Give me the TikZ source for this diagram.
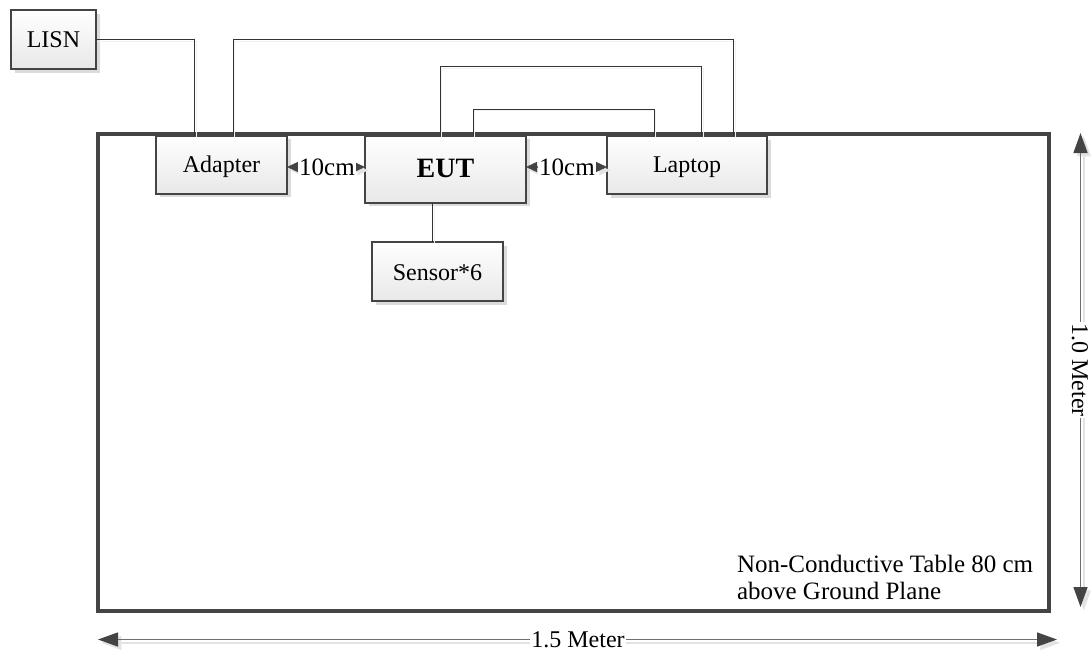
\documentclass[tikz,border=0pt]{standalone}
\usepackage{fontspec}
\setmainfont{Liberation Serif}
\usetikzlibrary{arrows.meta,shadows,calc}
\definecolor{boxline}{HTML}{444444}
\definecolor{wirecol}{HTML}{333333}
\definecolor{dimcol}{HTML}{707070}
\definecolor{tipcol}{HTML}{444444}
\definecolor{shadecol}{HTML}{E3E3E3}
\tikzset{
  x=1pt,y=-1pt,
  every node/.style={font=\fontsize{24}{27}\selectfont,text=black,inner sep=0pt,outer sep=0pt},
  unitbox/.style={draw=boxline,line width=2pt,rectangle,top color=white,bottom color=black!9,
    drop shadow={shadow xshift=3.5pt,shadow yshift=-3.5pt,fill=black,opacity=.14}},
  wire/.style={draw=wirecol,line width=1pt},
  wireshadow/.style={draw=black!5,line width=1pt,transform canvas={xshift=1.5pt,yshift=-1.5pt}},
  bigtips/.style={{Triangle[length=20pt,width=14pt,color=tipcol]}-{Triangle[length=20pt,width=14pt,color=tipcol]}},
  smalltips/.style={{Triangle[length=11pt,width=10pt,color=tipcol]}-{Triangle[length=11pt,width=10pt,color=tipcol]}},
  bigshadow/.style={{Triangle[length=20pt,width=14pt,color=shadecol]}-{Triangle[length=20pt,width=14pt,color=shadecol]}},
  smallshadow/.style={{Triangle[length=11pt,width=10pt,color=shadecol]}-{Triangle[length=11pt,width=10pt,color=shadecol]}},
  dimshadow/.style={draw=shadecol,line width=1.4pt,transform canvas={xshift=3.3pt,yshift=-3.3pt}},
  dimline/.style={draw=dimcol,line width=1.4pt},
  dimlabel/.style={fill=white,inner xsep=1pt,inner ysep=0pt},
}
\newcommand{\wireline}[1]{\draw[wireshadow] #1; \draw[wire] #1;}
\newcommand{\dimarrow}[2]{\draw[dimshadow,#1shadow] #2; \draw[dimline,#1tips] #2;}
\begin{document}
\begin{tikzpicture}
\useasboundingbox (0,0) rectangle (1091,651);
% table
\node[draw=boxline,line width=3.5pt,rectangle,minimum width=951pt,minimum height=477pt,anchor=north west] (tbl) at (98,134) {};
% units
\node[unitbox,minimum width=85pt,minimum height=59pt,text height=20pt,text depth=4.4pt] (lisn) at (53.5,39.5) {LISN};
\node[unitbox,minimum width=131pt,minimum height=58pt,text height=20pt,text depth=4.4pt] (adapter) at (221.5,164.5) {Adapter};
\node[unitbox,minimum width=161pt,minimum height=67pt,text height=20pt,text depth=2.6pt] (eut) at (445.5,169) {\fontsize{28}{30}\selectfont\bfseries EUT};
\node[unitbox,minimum width=160pt,minimum height=58pt,text height=20pt,text depth=5.4pt] (laptop) at (687,165) {Laptop};
\node[unitbox,minimum width=131pt,minimum height=59pt,text height=20pt,text depth=3pt] (sensor) at (437.5,271.5) {Sensor*6};
% connectors
\coordinate (toplevel) at (0,39.5);
\wireline{(lisn.east) -| ([xshift=-27pt]adapter.north)}
\wireline{([xshift=11.5pt]adapter.north) |- ([xshift=46.5pt]laptop.north |- toplevel) -- ([xshift=46.5pt]laptop.north)}
\wireline{([xshift=-5.5pt]eut.north) |- ([xshift=14.7pt,yshift=69.5pt]laptop.north) -- ([xshift=14.7pt]laptop.north)}
\wireline{([xshift=27.5pt]eut.north) |- ([xshift=-33pt,yshift=27pt]laptop.north) -- ([xshift=-33pt]laptop.north)}
\wireline{([xshift=-13pt]eut.south) -- ([xshift=-13pt]eut.south |- sensor.north)}
% ten-centimetre gaps
\coordinate (gapa) at (327,167);
\coordinate (gapb) at (567,167);
\dimarrow{small}{(adapter.east |- gapa) -- (eut.west |- gapa)}
\dimarrow{small}{(eut.east |- gapb) -- (laptop.west |- gapb)}
\node[dimlabel,font=\fontsize{25}{27}\selectfont] (tena) at (gapa) {10cm};
\node[dimlabel,font=\fontsize{25}{27}\selectfont] (tenb) at (gapb) {10cm};
% overall dimensions
\coordinate (wl) at (98,639.5);
\coordinate (wr) at (1057,639.5);
\coordinate (ht) at (1080.5,133);
\coordinate (hb) at (1080.5,607);
\dimarrow{big}{(wl) -- (wr)}
\dimarrow{big}{(ht) -- (hb)}
\node[dimlabel] (wlab) at (578,639.5) {1.5 Meter};
\node[dimlabel,rotate=-90] (hlab) at (1080,370) {1.0 Meter};
% note
\node[align=left,anchor=north west,font=\fontsize{25}{27}\selectfont] (note) at (737,555) {Non-Conductive Table 80 cm\\above Ground Plane};
\end{tikzpicture}
\end{document}
